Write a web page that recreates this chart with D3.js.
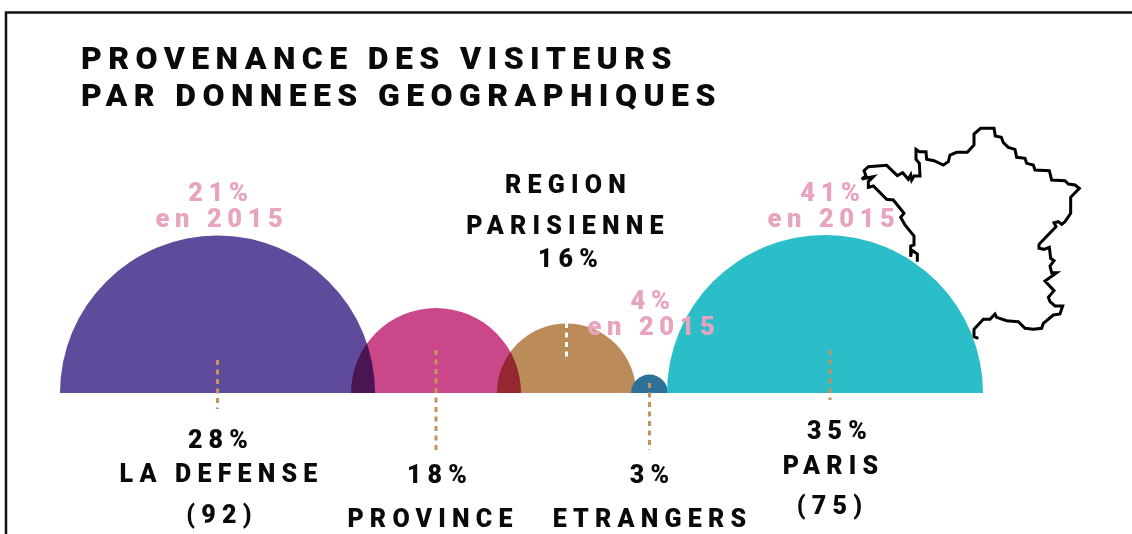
<!DOCTYPE html>
<html>
<head>
<meta charset="utf-8">
<script src="https://cdn.jsdelivr.net/npm/d3@7"></script>
<style>
  html, body { margin: 0; padding: 0; background: #fff; }
  svg { display: block; background: #fff; }
  text { font-family: Roboto, sans-serif; }
  .title { font-size: 32px; font-weight: 900; letter-spacing: 6.4px; fill: #0a0a0a; }
  .label { font-size: 25px; font-weight: 900; letter-spacing: 6.2px; fill: #0a0a0a; text-anchor: middle; }
  .past { font-size: 25.5px; font-weight: 900; letter-spacing: 5.6px; fill: #e8a3bf; text-anchor: middle; }
</style>
</head>
<body>
<div id="graphicContainer"></div>
<script>
const categories = ["LA DEFENSE", "PROVINCE", "REGION PARISIENNE", "ETRANGERS", "PARIS"]
const shares = [28, 18, 16, 3, 35]
// drawn sizes do not follow the shares in the original, so read them separately
const arcWidths = [315, 170, 139, 37, 316]
const arcOverlaps = [0, 24, 24, 5, 1]
const arcColors = ["#5f4b9c", "#ca4789", "#bc8b5a", "#2d7199", "#2bbec8"]
const arcBlends = ["multiply", "multiply", "multiply", "normal", "normal"]
const titleLines = ["PROVENANCE DES VISITEURS", "PAR DONNEES GEOGRAPHIQUES"]

// France outline, traced on a 780 x 720 grid
const franceOutline = [
  [232,455],[232,432],[215,420],[212,440],[212,408],[222,405],[222,378],[195,345],[182,322],[192,310],
  [160,270],[140,268],[100,228],[85,232],[85,215],[100,200],[65,207],[78,198],[72,182],[85,170],
  [140,166],[172,197],[188,188],[205,208],[212,195],[215,210],[222,198],[240,198],[238,160],[228,148],
  [228,118],[238,125],[258,125],[260,148],[282,152],[310,165],[325,155],[330,135],[350,127],[382,127],
  [402,105],[402,72],[422,55],[462,55],[466,78],[484,82],[490,98],[505,112],[525,118],[530,142],
  [555,145],[560,160],[580,165],[585,180],[628,182],[635,210],[675,212],[685,222],[705,225],[718,235],
  [692,262],[692,310],[675,335],[665,343],[655,335],[642,338],[648,350],[597,403],[597,415],[612,418],
  [628,412],[632,445],[642,452],[630,468],[635,488],[650,488],[615,513],[642,542],[625,562],[630,575],
  [645,588],[668,588],[660,612],[640,615],[610,640],[605,655],[580,658],[555,655],[535,635],[500,632],
  [470,622],[465,612],[450,628],[430,628],[402,658],[402,680],[415,685]
]

const svgWidth = 1132
const svgHeight = 534
const baseline = 393

const svg = d3.select("#graphicContainer")
  .append("svg")
  .attr("width", svgWidth)
  .attr("height", svgHeight)

// frame, only the top and left edges fall inside the picture
svg.append("path")
  .attr("d", "M6,534V12.5H1132")
  .attr("fill", "none")
  .attr("stroke", "#111")
  .attr("stroke-width", 2.5)

const title = svg.append("text").attr("class", "title")
titleLines.forEach((d, i) => {
  title.append("tspan").attr("x", 81).attr("y", 69 + i * 37).text(d)
})

// map sits behind the arcs
const mapX = d3.scaleLinear().domain([0, 780]).range([840, 1100])
const mapY = d3.scaleLinear().domain([0, 720]).range([110, 350])

svg.append("path")
  .attr("d", d3.line().x(d => mapX(d[0])).y(d => mapY(d[1]))(franceOutline))
  .attr("fill", "none")
  .attr("stroke", "#000")
  .attr("stroke-width", 3)

// lay the arcs end to end, each one eating into the previous one
let run = 0
const arcs = categories.map((name, i) => {
  const start = run - arcOverlaps[i]
  run = start + arcWidths[i]
  return { name, share: shares[i], start, end: run, color: arcColors[i], blend: arcBlends[i] }
})

const x = d3.scaleLinear().domain([0, run]).range([60, 983])

const arcPath = d3.arc()
  .startAngle(-Math.PI / 2)
  .endAngle(Math.PI / 2)
  .innerRadius(0)
  .outerRadius(d => (x(d.end) - x(d.start)) / 2)

svg.selectAll(".arc")
  .data(arcs)
  .enter()
  .append("path")
  .attr("class", "arc")
  .attr("transform", d => `translate(${(x(d.start) + x(d.end)) / 2},${baseline})`)
  .attr("d", arcPath)
  .attr("fill", d => d.color)
  .style("mix-blend-mode", d => d.blend)

const center = i => (x(arcs[i].start) + x(arcs[i].end)) / 2

// dashed leaders: arc index, top, bottom, colour
const leaders = [
  [0, 360, 409, "#c4935f"],
  [1, 350, 450, "#c4935f"],
  [2, 323, 358, "#ffffff"],
  [3, 383, 450, "#c4935f"],
  [4, 350, 400, "#c4935f"]
]

svg.selectAll(".leader")
  .data(leaders)
  .enter()
  .append("line")
  .attr("class", "leader")
  .attr("x1", d => center(d[0]) + (d[0] == 4 ? 5 : 0))
  .attr("x2", d => center(d[0]) + (d[0] == 4 ? 5 : 0))
  .attr("y1", d => d[1])
  .attr("y2", d => d[2])
  .attr("stroke", d => d[3])
  .attr("stroke-width", 3)
  .attr("stroke-dasharray", "5 4.5")

const labelRows = [
  [`${shares[0]}%`, 221, 448], ["LA DEFENSE", 221.5, 482], ["(92)", 222, 523],
  [`${shares[1]}%`, 440, 483], ["PROVINCE", 433, 527],
  ["REGION", 568.5, 193], ["PARISIENNE", 568, 234], [`${shares[2]}%`, 571, 267],
  [`${shares[3]}%`, 652.5, 483], ["ETRANGERS", 652.5, 527],
  [`${shares[4]}%`, 840, 439], ["PARIS", 833.5, 474], ["(75)", 832.5, 514]
]

svg.selectAll(".label")
  .data(labelRows)
  .enter()
  .append("text")
  .attr("class", "label")
  .attr("x", d => d[1])
  .attr("y", d => d[2])
  .text(d => d[0])

const pastRows = [
  ["21%", 221, 201], ["en 2015", 222, 227],
  ["4%", 653, 309], ["en 2015", 654, 335],
  ["41%", 833, 201], ["en 2015", 834, 227]
]

svg.selectAll(".past")
  .data(pastRows)
  .enter()
  .append("text")
  .attr("class", "past")
  .attr("x", d => d[1])
  .attr("y", d => d[2])
  .text(d => d[0])
</script>
</body>
</html>
